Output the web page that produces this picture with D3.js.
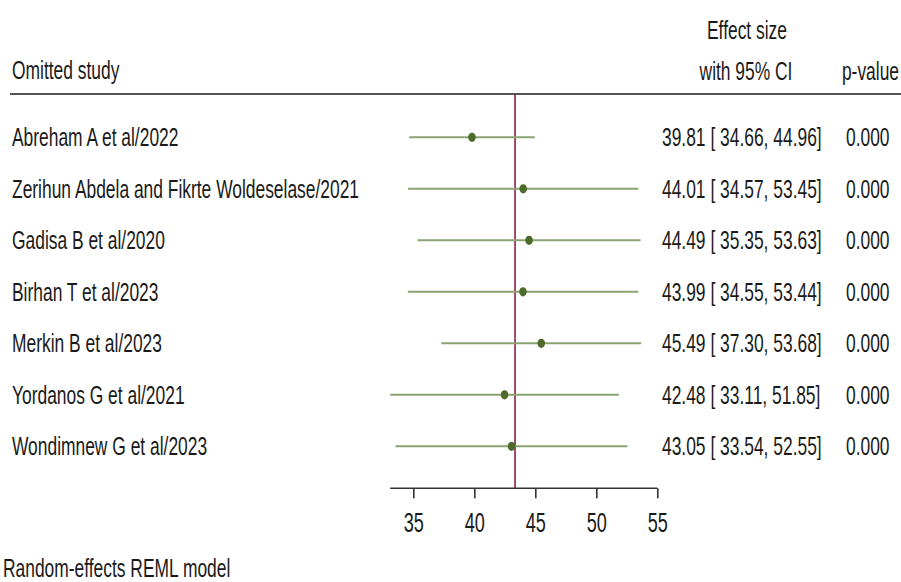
<!DOCTYPE html>
<html>
<head>
<meta charset="utf-8">
<script src="https://cdn.jsdelivr.net/npm/d3@7"></script>
<style>
  html, body { margin: 0; padding: 0; background: #fff; }
  svg { display: block; }
  text { font-family: "Liberation Sans", Arial, sans-serif; fill: #1a1a1a; }
</style>
</head>
<body>
<svg id="chart" width="901" height="582"></svg>
<script>
// ---- data ----
const studies = [
  "Abreham A et al/2022",
  "Zerihun Abdela and Fikrte Woldeselase/2021",
  "Gadisa B et al/2020",
  "Birhan T et al/2023",
  "Merkin B et al/2023",
  "Yordanos G et al/2021",
  "Wondimnew G et al/2023"
];
const effects = [39.81, 44.01, 44.49, 43.99, 45.49, 42.48, 43.05];
const lowerCI = [34.66, 34.57, 35.35, 34.55, 37.30, 33.11, 33.54];
const upperCI = [44.96, 53.45, 53.63, 53.44, 53.68, 51.85, 52.55];
const pValues = ["0.000", "0.000", "0.000", "0.000", "0.000", "0.000", "0.000"];
const pooled = 43.34;
const tickValues = [35, 40, 45, 50, 55];

// ---- layout ----
const svg = d3.select("#chart");
const SX = 0.67;           // horizontal compression of the narrow font
const FS = 26;

const x = d3.scaleLinear().domain([35, 55]).range([413.3, 657.3]);
const y = d3.scalePoint().domain(studies).range([137.3, 446.3]);
const headerY = 94;
const axisY = 488.3;

function label(g, str, px, py, anchor, size) {
  return g.append("text")
    .attr("transform", `translate(${px},${py}) scale(${SX},1)`)
    .attr("text-anchor", anchor || "start")
    .style("font-size", (size || FS) + "px")
    .text(str);
}

// headers
label(svg, "Omitted study", 12, 79.3);
label(svg, "Effect size", 747, 39.3, "middle");
label(svg, "with 95% CI", 746, 80, "middle");
label(svg, "p-value", 899, 80, "end");

svg.append("line")
  .attr("x1", 10).attr("x2", 901)
  .attr("y1", headerY).attr("y2", headerY)
  .attr("stroke", "#555").attr("stroke-width", 2);

// reference line at pooled estimate
svg.append("line")
  .attr("x1", x(pooled)).attr("x2", x(pooled))
  .attr("y1", headerY).attr("y2", axisY)
  .attr("stroke", "#8b2048").attr("stroke-width", 1.6);

const data = studies.map((s, i) => ({
  study: s, es: effects[i], lo: lowerCI[i], hi: upperCI[i], p: pValues[i]
}));

// rows
const rows = svg.append("g");
rows.selectAll("line.ci").data(data).join("line")
  .attr("class", "ci")
  .attr("x1", d => x(d.lo)).attr("x2", d => x(d.hi))
  .attr("y1", d => y(d.study)).attr("y2", d => y(d.study))
  .attr("stroke", "#8aa372").attr("stroke-width", 2);

rows.selectAll("ellipse").data(data).join("ellipse")
  .attr("cx", d => x(d.es)).attr("cy", d => y(d.study))
  .attr("rx", 3.8).attr("ry", 4.6)
  .attr("fill", "#4f6b2c");

data.forEach(d => {
  const cy = y(d.study) + 8.7;
  label(svg, d.study, 12, cy);
  label(svg, `${d.es.toFixed(2)} [ ${d.lo.toFixed(2)}, ${d.hi.toFixed(2)}]`, 662, cy);
  label(svg, d.p, 846, cy);
});

// axis
const axisG = svg.append("g").attr("transform", `translate(0,${axisY})`);
axisG.call(d3.axisBottom(x).tickValues(tickValues).tickSize(10).tickFormat(d3.format("d")));
axisG.select(".domain").remove();
axisG.selectAll(".tick line").attr("stroke", "#333").attr("stroke-width", 1.6);
axisG.selectAll(".tick text")
  .attr("y", 43.4).attr("dy", null)
  .attr("transform", `scale(${SX},1)`)
  .style("font-size", "27px")
  .style("font-family", '"Liberation Sans", Arial, sans-serif')
  .attr("fill", "#1a1a1a");
axisG.append("line")
  .attr("x1", x(d3.min(lowerCI))).attr("x2", x(d3.max(tickValues)))
  .attr("y1", 0).attr("y2", 0)
  .attr("stroke", "#333").attr("stroke-width", 1.6);

label(svg, "Random-effects REML model", 3, 577);
</script>
</body>
</html>
